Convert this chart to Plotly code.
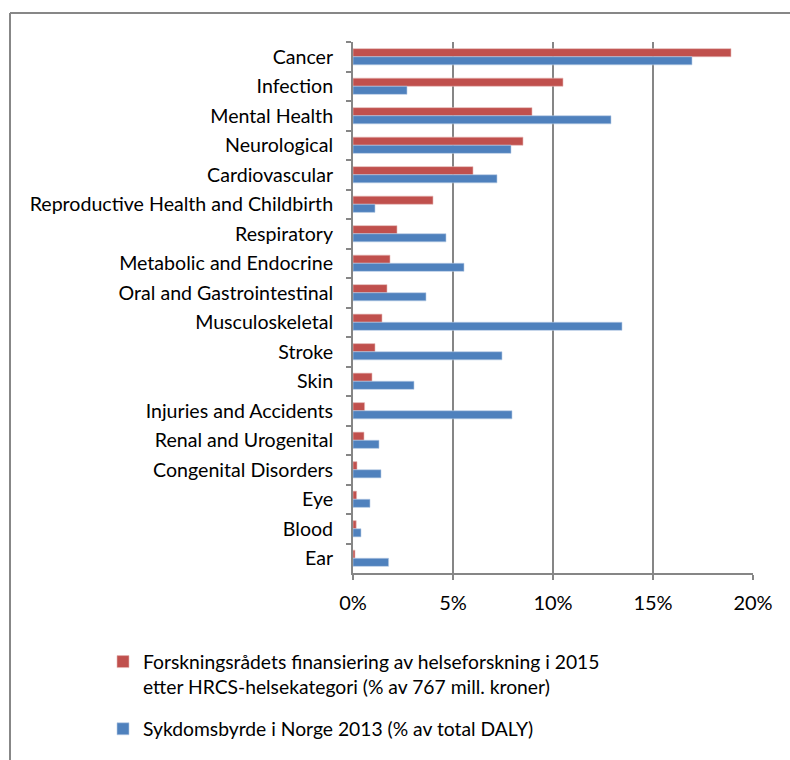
import plotly.graph_objects as go

categories = [
    "Cancer", "Infection", "Mental Health", "Neurological", "Cardiovascular",
    "Reproductive Health and Childbirth", "Respiratory", "Metabolic and Endocrine",
    "Oral and Gastrointestinal", "Musculoskeletal", "Stroke", "Skin",
    "Injuries and Accidents", "Renal and Urogenital", "Congenital Disorders",
    "Eye", "Blood", "Ear",
]

# Share of research funding (%)
funding = [18.9, 10.5, 8.95, 8.5, 6.0, 4.0, 2.2, 1.85, 1.7, 1.45, 1.1, 0.95,
           0.58, 0.55, 0.2, 0.18, 0.16, 0.1]

# Share of disease burden, DALY (%)
burden = [16.95, 2.7, 12.9, 7.9, 7.2, 1.1, 4.65, 5.55, 3.65, 13.45, 7.45, 3.05,
          7.95, 1.3, 1.4, 0.85, 0.4, 1.78]

x_ticks = [0, 5, 10, 15, 20]

RED = "#C0504D"
BLUE = "#4F81BD"
GRID = "#868686"
FONT = "Lato"

fig = go.Figure()
fig.add_trace(go.Bar(
    y=categories, x=funding, orientation="h",
    name="Forskningsrådets finansiering av helseforskning i 2015<br>etter HRCS-helsekategori (% av 767 mill. kroner)",
    legendgroup="funding",
    marker=dict(color=RED, line=dict(color="#E6B8B7", width=0.6)),
))
fig.add_trace(go.Bar(
    y=categories, x=burden, orientation="h",
    name="Sykdomsbyrde i Norge 2013 (% av total DALY)",
    legendgroup="burden",
    marker=dict(color=BLUE, line=dict(color="#B9CDE5", width=0.6)),
))

fig.update_layout(
    width=790, height=760,
    margin=dict(l=353, r=37, t=42, b=187),
    paper_bgcolor="white", plot_bgcolor="white",
    barmode="group", bargap=0.45, bargroupgap=0,
    font=dict(family=FONT, size=19, color="#000000"),
    showlegend=True,
    legend=dict(
        x=-0.625, y=-0.131, xanchor="left", yanchor="top",
        font=dict(family=FONT, size=19.3, color="#000000"),
        traceorder="grouped", tracegroupgap=14, valign="top",
        itemwidth=30, bgcolor="rgba(0,0,0,0)",
    ),
    xaxis=dict(
        range=[0, 20], tickvals=x_ticks,
        ticktext=[f"{v}%" for v in x_ticks],
        showgrid=True, gridcolor=GRID, gridwidth=2,
        showline=True, linecolor=GRID, linewidth=2,
        ticks="outside", ticklen=5, tickcolor=GRID, tickwidth=2,
        zeroline=False, tickfont=dict(size=20), ticklabelstandoff=6,
        mirror=False,
    ),
    yaxis=dict(
        autorange="reversed", type="category",
        showline=True, linecolor=GRID, linewidth=2,
        ticks="outside", ticklen=5, tickcolor=GRID, tickwidth=2,
        tickson="boundaries", showgrid=False,
        tickfont=dict(size=19.6), ticklabelstandoff=14,
    ),
    shapes=[
        # outer frame of the chart area (left and top edges)
        dict(type="line", xref="paper", yref="paper",
             x0=-0.8575, x1=-0.8575, y0=1.0546, y1=-0.36,
             line=dict(color="#878787", width=2)),
        dict(type="line", xref="paper", yref="paper",
             x0=-0.8575, x1=1.2, y0=1.0546, y1=1.0546,
             line=dict(color="#878787", width=2)),
    ],
)

fig.write_html("out.html")
